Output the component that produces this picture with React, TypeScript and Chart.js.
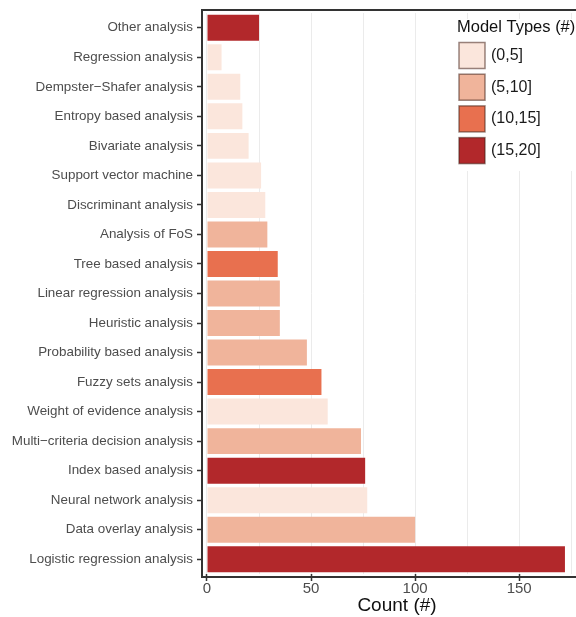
import React, { useEffect, useRef } from "react";
import { Chart, registerables } from "chart.js";

Chart.register(...registerables);

const categories = [
  "Other analysis",
  "Regression analysis",
  "Dempster\u2212Shafer analysis",
  "Entropy based analysis",
  "Bivariate analysis",
  "Support vector machine",
  "Discriminant analysis",
  "Analysis of FoS",
  "Tree based analysis",
  "Linear regression analysis",
  "Heuristic analysis",
  "Probability based analysis",
  "Fuzzy sets analysis",
  "Weight of evidence analysis",
  "Multi\u2212criteria decision analysis",
  "Index based analysis",
  "Neural network analysis",
  "Data overlay analysis",
  "Logistic regression analysis",
];

const counts = [25, 7, 16, 17, 20, 26, 28, 29, 34, 35, 35, 48, 55, 58, 74, 76, 77, 100, 172];

const modelTypeBins = [
  "(15,20]", "(0,5]", "(0,5]", "(0,5]", "(0,5]", "(0,5]", "(0,5]", "(5,10]", "(10,15]",
  "(5,10]", "(5,10]", "(5,10]", "(10,15]", "(0,5]", "(5,10]", "(15,20]", "(0,5]", "(5,10]", "(15,20]",
];

const binLabels = ["(0,5]", "(5,10]", "(10,15]", "(15,20]"];
const binColors = ["#fbe6dc", "#f0b49b", "#e8704f", "#b2282b"];

const xTickValues = [0, 25, 50, 75, 100, 125, 150, 175];
const xLabelledTicks = [0, 50, 100, 150];

const legendTitle = "Model Types (#)";
const xTitle = "Count (#)";

const FONT = "'Liberation Sans', Arial, Helvetica, sans-serif";

export default function App() {
  const ref = useRef<HTMLCanvasElement | null>(null);

  useEffect(() => {
    if (!ref.current) return;
    const datasets = binLabels.map((lab, bi) => ({
      label: lab,
      data: counts.map((c, i) => (modelTypeBins[i] === lab ? c : null)),
      backgroundColor: binColors[bi],
      borderWidth: 0,
      categoryPercentage: 1,
      barPercentage: 0.88,
    }));

    const framePlugin = {
      id: "frame",
      afterDraw(chart: any) {
        const ctx = chart.ctx;
        const left = 202;
        const top = 10;
        const bottom = 577;
        ctx.save();
        ctx.strokeStyle = "#333333";
        ctx.lineWidth = 2;
        ctx.beginPath();
        ctx.moveTo(left, top);
        ctx.lineTo(chart.width, top);
        ctx.moveTo(left, top - 1);
        ctx.lineTo(left, bottom + 1);
        ctx.moveTo(left, bottom);
        ctx.lineTo(chart.width, bottom);
        ctx.stroke();

        // legend
        const lx = 450;
        const ly = 19;
        ctx.fillStyle = "#ffffff";
        ctx.fillRect(lx, ly, chart.width - lx, 152);
        ctx.fillStyle = "#111111";
        ctx.font = `16.5px ${FONT}`;
        ctx.textBaseline = "middle";
        ctx.textAlign = "left";
        ctx.fillText(legendTitle, 457, 27);
        chart.data.datasets.forEach((ds: any, i: number) => {
          const by = 42.5 + i * 31.7;
          ctx.fillStyle = ds.backgroundColor;
          ctx.fillRect(459, by, 26, 26);
          ctx.strokeStyle = "rgba(70,35,25,0.55)";
          ctx.lineWidth = 1.5;
          ctx.strokeRect(459, by, 26, 26);
          ctx.fillStyle = "#1a1a1a";
          ctx.font = `16px ${FONT}`;
          ctx.fillText(ds.label, 491, by + 13);
        });
        ctx.restore();
      },
    };

    const chart = new Chart(ref.current, {
      type: "bar",
      data: { labels: categories, datasets },
      options: {
        indexAxis: "y",
        animation: false,
        responsive: false,
        maintainAspectRatio: false,
        layout: { padding: { left: 0, right: 8, top: 13, bottom: 0 } },
        plugins: {
          legend: { display: false },
          tooltip: { enabled: false },
        },
        scales: {
          x: {
            type: "linear",
            stacked: true,
            min: -2.4,
            max: 185,
            afterBuildTicks: (scale: any) => {
              scale.ticks = xTickValues.map((v) => ({ value: v }));
            },
            afterFit: (scale: any) => {
              scale.height = 43;
            },
            border: { display: false },
            grid: {
              color: "#ebebeb",
              lineWidth: 1,
              drawTicks: true,
              tickLength: 7,
              tickWidth: 1.5,
              tickColor: (c: any) =>
                c.tick && xLabelledTicks.includes(c.tick.value) ? "#333333" : "rgba(0,0,0,0)",
            },
            ticks: {
              autoSkip: false,
              maxRotation: 0,
              padding: -1,
              color: "#4d4d4d",
              font: { family: FONT, size: 15 },
              callback: (v: any) => (xLabelledTicks.includes(Number(v)) ? String(v) : ""),
            },
            title: {
              display: true,
              text: xTitle,
              color: "#111111",
              font: { family: FONT, size: 19 },
              padding: { top: 0, bottom: 0 },
            },
          },
          y: {
            type: "category",
            stacked: true,
            offset: true,
            afterFit: (scale: any) => {
              scale.width = 202;
            },
            border: { display: false },
            grid: {
              offset: false,
              drawOnChartArea: false,
              drawTicks: true,
              tickLength: 5,
              tickWidth: 1.5,
              tickColor: "#333333",
              color: "rgba(0,0,0,0)",
            },
            ticks: {
              autoSkip: false,
              padding: 4,
              color: "#4d4d4d",
              font: { family: FONT, size: 13.4 },
            },
          },
        },
      },
      plugins: [framePlugin],
    } as any);

    return () => chart.destroy();
  }, []);

  return (
    <div
      style={{
        position: "fixed",
        left: 0,
        top: 0,
        width: 576,
        height: 617,
        overflow: "hidden",
        background: "#ffffff",
      }}
    >
      <canvas ref={ref} width={600} height={617} style={{ width: 600, height: 617, display: "block" }} />
    </div>
  );
}
